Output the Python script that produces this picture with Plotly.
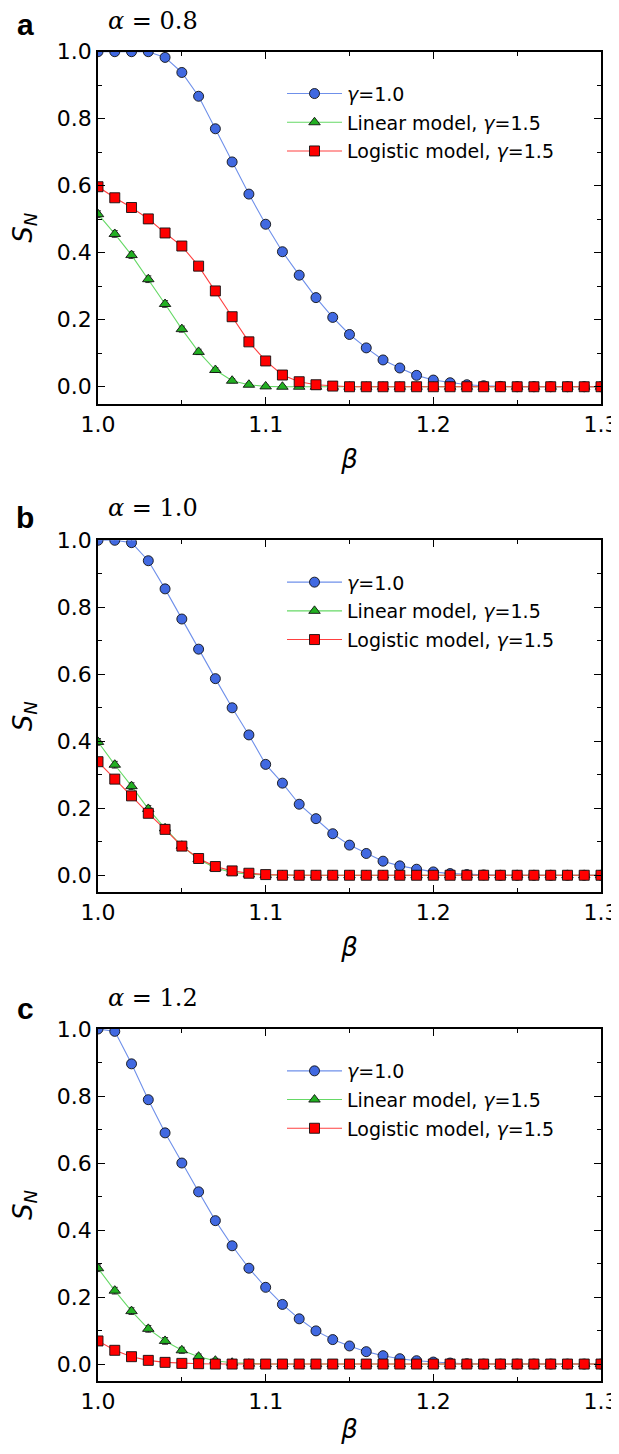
import plotly.graph_objects as go

beta = [round(1.00 + 0.01 * i, 2) for i in range(31)]

# Panel a: alpha = 0.8
a_gamma10 = [1.000, 1.000, 1.000, 1.000, 0.983, 0.938, 0.867, 0.770, 0.671, 0.575,
             0.485, 0.403, 0.333, 0.266, 0.207, 0.156, 0.116, 0.080, 0.056, 0.034,
             0.020, 0.012, 0.006, 0.003, 0.001, 0.000, 0.000, 0.000, 0.000, 0.000, 0.000]
a_linear = [0.515, 0.456, 0.393, 0.321, 0.247, 0.172, 0.104, 0.050, 0.018, 0.006,
            0.001, 0.000, 0.000, 0.000, 0.000, 0.000, 0.000, 0.000, 0.000, 0.000,
            0.000, 0.000, 0.000, 0.000, 0.000, 0.000, 0.000, 0.000, 0.000, 0.000, 0.000]
a_logistic = [0.597, 0.564, 0.535, 0.501, 0.459, 0.420, 0.360, 0.286, 0.209, 0.134,
              0.077, 0.035, 0.015, 0.006, 0.002, 0.000, 0.000, 0.000, 0.000, 0.000,
              0.000, 0.000, 0.000, 0.000, 0.000, 0.000, 0.000, 0.000, 0.000, 0.000, 0.000]

# Panel b: alpha = 1.0
b_gamma10 = [1.000, 1.000, 0.993, 0.939, 0.855, 0.765, 0.675, 0.587, 0.500, 0.419,
             0.331, 0.275, 0.212, 0.169, 0.124, 0.090, 0.065, 0.042, 0.028, 0.018,
             0.010, 0.005, 0.002, 0.001, 0.000, 0.000, 0.000, 0.000, 0.000, 0.000, 0.000]
b_linear = [0.398, 0.330, 0.266, 0.198, 0.140, 0.088, 0.048, 0.022, 0.008, 0.003,
            0.001, 0.000, 0.000, 0.000, 0.000, 0.000, 0.000, 0.000, 0.000, 0.000,
            0.000, 0.000, 0.000, 0.000, 0.000, 0.000, 0.000, 0.000, 0.000, 0.000, 0.000]
b_logistic = [0.339, 0.287, 0.237, 0.185, 0.137, 0.087, 0.050, 0.026, 0.013, 0.006,
              0.002, 0.000, 0.000, 0.000, 0.000, 0.000, 0.000, 0.000, 0.000, 0.000,
              0.000, 0.000, 0.000, 0.000, 0.000, 0.000, 0.000, 0.000, 0.000, 0.000, 0.000]

# Panel c: alpha = 1.2
c_gamma10 = [1.000, 0.993, 0.896, 0.789, 0.690, 0.600, 0.514, 0.428, 0.353, 0.286,
             0.229, 0.178, 0.135, 0.099, 0.073, 0.054, 0.037, 0.025, 0.016, 0.010,
             0.006, 0.003, 0.001, 0.000, 0.000, 0.000, 0.000, 0.000, 0.000, 0.000, 0.000]
c_linear = [0.286, 0.219, 0.158, 0.105, 0.069, 0.041, 0.022, 0.010, 0.004, 0.001,
            0.000, 0.000, 0.000, 0.000, 0.000, 0.000, 0.000, 0.000, 0.000, 0.000,
            0.000, 0.000, 0.000, 0.000, 0.000, 0.000, 0.000, 0.000, 0.000, 0.000, 0.000]
c_logistic = [0.069, 0.041, 0.022, 0.011, 0.005, 0.002, 0.001, 0.000, 0.000, 0.000,
              0.000, 0.000, 0.000, 0.000, 0.000, 0.000, 0.000, 0.000, 0.000, 0.000,
              0.000, 0.000, 0.000, 0.000, 0.000, 0.000, 0.000, 0.000, 0.000, 0.000, 0.000]

# small error bars (std. errors)
err_trans = [0.010, 0.010, 0.010, 0.010, 0.010, 0.009, 0.008, 0.007, 0.006, 0.005,
             0.004, 0.003, 0.002, 0.001, 0.001, 0.000, 0.000, 0.000, 0.000, 0.000,
             0.000, 0.000, 0.000, 0.000, 0.000, 0.000, 0.000, 0.000, 0.000, 0.000, 0.000]

panel_letters = ["a", "b", "c"]
alpha_labels = ["0.8", "1.0", "1.2"]
series_names = ["<i>γ</i>=1.0", "Linear model, <i>γ</i>=1.5", "Logistic model, <i>γ</i>=1.5"]
x_ticks = [1.0, 1.1, 1.2, 1.3]
x_ticklabels = ["1.0", "1.1", "1.2", "1.3"]
y_ticks = [0.0, 0.2, 0.4, 0.6, 0.8, 1.0]
y_ticklabels = ["0.0", "0.2", "0.4", "0.6", "0.8", "1.0"]

panels = [
    (a_gamma10, a_linear, a_logistic),
    (b_gamma10, b_linear, b_logistic),
    (c_gamma10, c_linear, c_logistic),
]

marker_colors = ["#4169E1", "#22B022", "#FF0000"]
line_colors = ["#6F90EA", "#66D966", "#FF4040"]
symbols = ["circle", "triangle-up", "square"]
sizes = [10, 10, 10]

# The page body has an 8px margin, so the figure is drawn offset by 8px.
OFF = 8.0
FW = 611
FH = 1436
PL = 98.0 - OFF          # plot left in figure px
PW = 503.0               # plot width
PR = FW - PL - PW

def px_x(x_abs):
    return (x_abs - OFF - PL) / PW

def px_y(y_abs):
    return 1 - (y_abs - OFF) / FH

# panel pixel extents in screen coords (y=1.0 line, y=-0.05 line)
tops = [51.7, 540.3, 1029.0]
bottoms = [403.5, 892.0, 1380.8]
ydomains = [[px_y(b), px_y(t)] for t, b in zip(tops, bottoms)]
letter_y = [24.5, 518.0, 1008.5]
title_y = [21.0, 508.5, 997.5]

fig = go.Figure()
legend_keys = ["legend", "legend2", "legend3"]

for p, series in enumerate(panels):
    xa = "x" if p == 0 else f"x{p+1}"
    ya = "y" if p == 0 else f"y{p+1}"
    for s, vals in enumerate(series):
        fig.add_trace(go.Scatter(
            x=beta, y=vals, mode="lines+markers",
            name=series_names[s],
            legendgroup=f"g{s}",
            legend=legend_keys[p],
            xaxis=xa, yaxis=ya,
            line=dict(color=line_colors[s], width=1.1),
            marker=dict(symbol=symbols[s], size=sizes[s], color=marker_colors[s],
                        line=dict(color="#111111", width=0.9)),
            error_y=dict(type="data", array=err_trans, color="#333333",
                         thickness=1, width=3),
        ))

axis_common = dict(
    showgrid=False, zeroline=False, showline=True, linecolor="black", linewidth=1.6,
    mirror="allticks", ticks="inside", tickcolor="black", tickwidth=1.3, ticklen=7,
    tickfont=dict(family="DejaVu Sans", size=22, color="black"),
    automargin=False,
)

layout = dict(
    width=FW, height=FH,
    margin=dict(l=PL, r=PR, t=0, b=0),
    paper_bgcolor="white", plot_bgcolor="white",
    showlegend=True,
    annotations=[],
)

for p in range(3):
    xk = "xaxis" if p == 0 else f"xaxis{p+1}"
    yk = "yaxis" if p == 0 else f"yaxis{p+1}"
    ya = "y" if p == 0 else f"y{p+1}"
    xa = "x" if p == 0 else f"x{p+1}"
    layout[xk] = dict(axis_common, range=[1.0, 1.3], anchor=ya, domain=[0, 1],
                      tickvals=x_ticks, ticktext=x_ticklabels,
                      minor=dict(ticks="inside", dtick=0.05, tick0=1.0, ticklen=4,
                                 tickcolor="black", tickwidth=1.1),
                      title=dict(text="<i>β</i>", font=dict(family="DejaVu Sans", size=26, color="black"),
                                 standoff=14))
    layout[yk] = dict(axis_common, range=[-0.05, 1.0], anchor=xa, domain=ydomains[p],
                      tickvals=y_ticks, ticktext=y_ticklabels,
                      minor=dict(ticks="inside", dtick=0.1, tick0=0.0, ticklen=4,
                                 tickcolor="black", tickwidth=1.1),
                      title=dict(text="<i>S</i><sub><i>N</i></sub>",
                                 font=dict(family="DejaVu Sans", size=26, color="black"),
                                 standoff=17))
    layout[legend_keys[p]] = dict(
        x=px_x(282), y=px_y(tops[p] + 23), xanchor="left", yanchor="top",
        bgcolor="rgba(0,0,0,0)", borderwidth=0,
        font=dict(family="DejaVu Sans", size=19, color="black"),
        traceorder="grouped", tracegroupgap=1,
        itemwidth=55,
    )
    layout["annotations"].append(dict(
        text=f"<b>{panel_letters[p]}</b>", xref="paper", yref="paper",
        x=px_x(25), y=px_y(letter_y[p]), xanchor="center", yanchor="middle",
        showarrow=False, font=dict(family="Liberation Sans", size=30, color="black")))
    layout["annotations"].append(dict(
        text=f"<i>α</i> = {alpha_labels[p]}", xref="paper", yref="paper",
        x=px_x(153), y=px_y(title_y[p]), xanchor="center", yanchor="middle",
        showarrow=False, font=dict(family="DejaVu Serif", size=24, color="black")))

fig.update_layout(**layout)
fig.write_html("out.html")
